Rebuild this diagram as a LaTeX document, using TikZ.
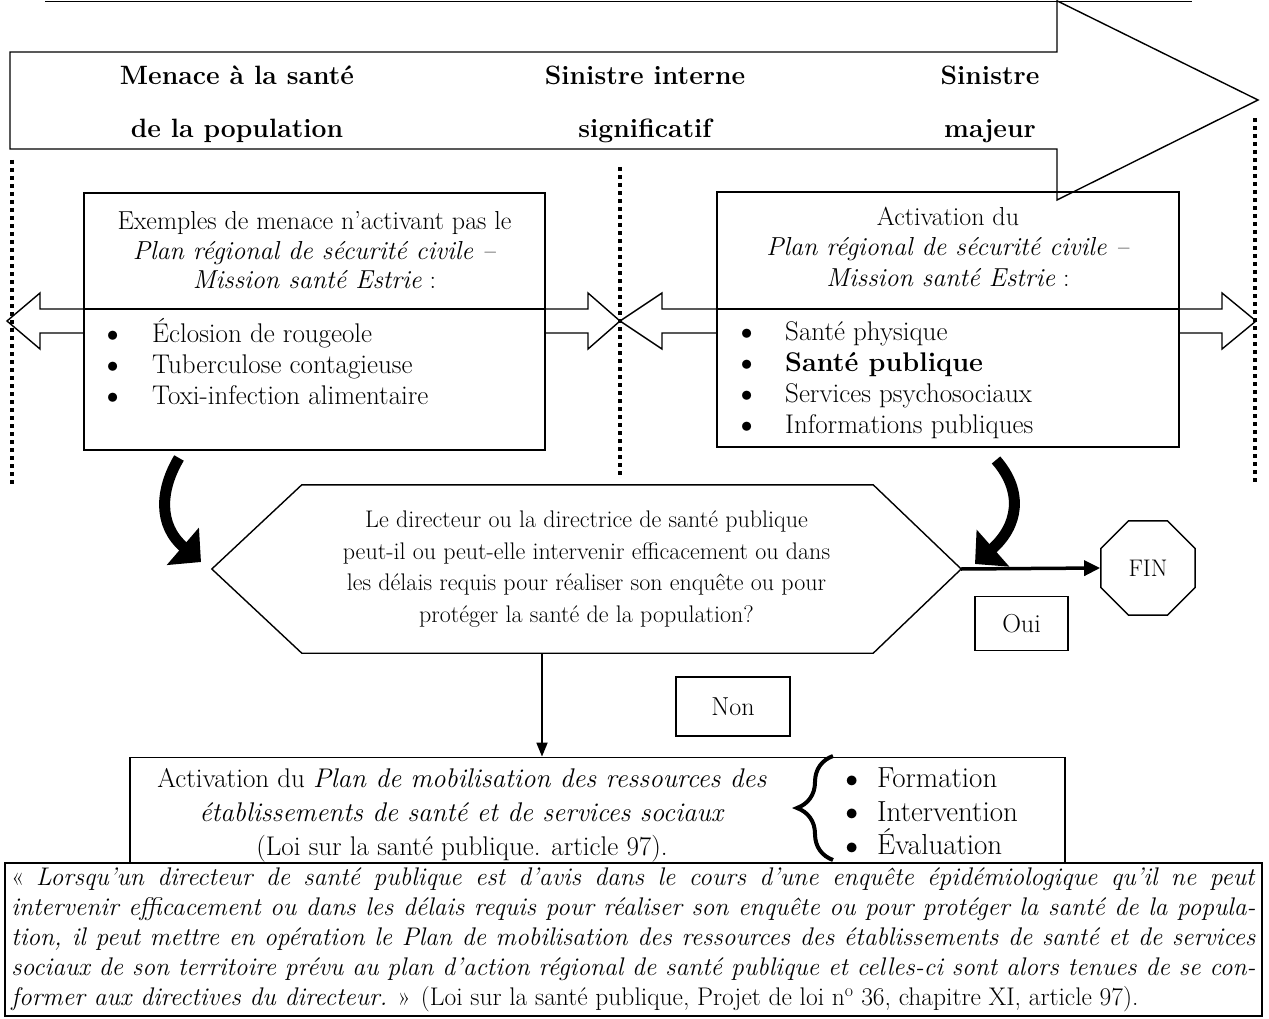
\documentclass[tikz,border=0pt]{standalone}
\usepackage{tikz}
\usetikzlibrary{arrows.meta,calc,shapes.geometric,decorations.pathreplacing}
\newcommand{\puce}[1][54pt]{\makebox[#1][l]{\smash{\raisebox{-0.15em}{\scalebox{1.5}{\textbullet}}}}}
\tikzset{
	cadre/.style={draw, line width=1.8pt, fill=white},
	trait/.style={draw, line width=1.4pt},
	pointille/.style={line width=4pt, dash pattern=on 4pt off 4pt},
	texte/.style={inner sep=0pt, align=center, font=\fontsize{26}{29.5}\selectfont},
	titre/.style={inner sep=0pt, align=center, font=\bfseries\fontsize{26.5}{53}\selectfont},
	liste/.style={inner sep=0pt, align=left, font=\fontsize{27}{31}\selectfont},
	courbe/.style={line width=11pt, -{Triangle[length=24pt, width=48pt]}},
}

\begin{document}
\begin{tikzpicture}[x=1pt, y=-1pt]
			%%%%% START %%%%%
			\useasboundingbox (0,0) rectangle (1269,1019);
			
			\draw[line width=1.5pt] (45,1.5) -- (1192,1.5);
			
			\draw[trait] (7,321) -- (40,293) -- (40,309) -- (588,309) -- (588,293) -- (620,321) -- (588,349) -- (588,333) -- (40,333) -- (40,349) -- cycle;
			\draw[trait] (620,321) -- (662,293) -- (662,309) -- (1222,309) -- (1222,293) -- (1256,321) -- (1222,349) -- (1222,333) -- (662,333) -- (662,349) -- cycle;
			
			\draw[pointille] (12,160) -- (12,484);
			\draw[pointille] (620,167) -- (620,478);
			\draw[pointille] (1255,118) -- (1255,484);
			
			\node[cadre, minimum width=461, minimum height=257] (menace) at (314.5,321.5) {};
			\draw[trait] (84,309) -- (545,309);
			\node[texte, anchor=north] (menacetitre) at ([yshift=-19.5]menace.north) {Exemples de menace n’activant pas le\\ \textit{Plan régional de sécurité civile –}\\ \textit{Mission santé Estrie} :};
			\node[liste, anchor=north west] (menaceliste) at (98,318.5) {\puce Éclosion de rougeole\\ \puce Tuberculose contagieuse\\ \puce Toxi-infection alimentaire};
			
			\node[cadre, minimum width=462, minimum height=255] (activation) at (948,319.5) {};
			\draw[trait] (717,309) -- (1179,309);
			\node[texte, anchor=north, font=\fontsize{26}{30.5}\selectfont] (activtitre) at ([yshift=-15.5]activation.north) {Activation du\\ \textit{Plan régional de sécurité civile –}\\ \textit{Mission santé Estrie} :};
			\node[liste, anchor=north west] (activliste) at (732,321.5) {\puce[53pt]Santé physique\\ \puce[53pt]\textbf{Santé publique}\\ \puce[53pt]Services psychosociaux\\ \puce[53pt]Informations publiques};
			
			\draw[trait] (10,52) -- (1057,52) -- (1057,0.8) -- (1258,100) -- (1057,200) -- (1057,149) -- (10,149) -- cycle;
			\node[titre] (menacesante) at (237,104) {Menace à la santé\\de la population};
			\node[titre] (sinistreint) at (645,104) {Sinistre interne\\significatif};
			\node[titre] (sinistremaj) at (990,104) {Sinistre\\majeur};
			
			\node[texte, font=\fontsize{24}{31.7}\selectfont, minimum width=749, minimum height=168] (question) at (586.5,569) {Le directeur ou la directrice de santé publique\\ peut-il ou peut-elle intervenir efficacement ou dans\\ les délais requis pour réaliser son enquête ou pour\\ protéger la santé de la population?};
			\draw[trait] (question.west) -- ([xshift=90]question.north west) -- ([xshift=-88]question.north east) -- (question.east) -- ([xshift=-88]question.south east) -- ([xshift=90]question.south west) -- cycle;
			
			\draw[courbe] (179,458) .. controls (160,490) and (158,525) .. (201,562);
			\draw[courbe] (996,460) .. controls (1024,492) and (1018,526) .. (975,564);
			
			\node[draw, line width=1.4pt, regular polygon, regular polygon sides=8, minimum size=102, inner sep=0pt, font=\fontsize{24}{24}\selectfont] (fin) at (1148,568) {FIN};
			\draw[line width=3.5pt, -{Triangle[length=16pt, width=15pt]}] (question.east) -- (fin.west);
			\node[texte, draw, line width=1.4pt, minimum width=93, minimum height=54] (oui) at (1021.5,623.5) {Oui};
			
			\node[cadre, minimum width=935, minimum height=105] (plan) at (597.5,810) {};
			\node[texte, font=\fontsize{27}{34}\selectfont] (plantexte) at (462,815.5) {Activation du \textit{Plan de mobilisation des ressources des}\\ \textit{établissements de santé et de services sociaux}\\ (Loi sur la santé publique. article 97).};
			\draw[line width=4pt, decorate, decoration={brace, amplitude=36pt}] (833,860) -- (833,756);
			\node[liste, font=\fontsize{29}{33.5}\selectfont, anchor=north west] (etapes) at (836,768) {\puce[41pt]Formation\\ \puce[41pt]Intervention\\ \puce[41pt]Évaluation};
			
			\node[texte, draw, line width=1.4pt, minimum width=114, minimum height=59] (non) at (733,706.5) {Non};
			\coordinate (bas) at ($(question.south)+(-44.5,0)$);
			\draw[line width=1.8pt, -{Triangle[length=14pt, width=11pt]}] (bas) -- (bas |- plan.north);
			
			\node[cadre, anchor=north, text width=1244, inner xsep=6.5, inner ysep=4, minimum height=153, align=justify, font=\fontsize{25.5}{30}\selectfont] (loi) at (633.5,862) {« \textit{Lorsqu’un directeur de santé publique est d’avis dans le cours d’une enquête épidémiologique qu’il ne peut}\linebreak \textit{intervenir efficacement ou dans les délais requis pour réaliser son enquête ou pour protéger la santé de la popula-}\linebreak \textit{tion, il peut mettre en opération le Plan de mobilisation des ressources des établissements de santé et de services}\linebreak \textit{sociaux de son territoire prévu au plan d’action régional de santé publique et celles-ci sont alors tenues de se con-}\linebreak \textit{former aux directives du directeur.} » (Loi sur la santé publique, Projet de loi n\textsuperscript{o} 36, chapitre XI, article 97).};
			
			%%%%% END %%%%%
\end{tikzpicture}
\end{document}
